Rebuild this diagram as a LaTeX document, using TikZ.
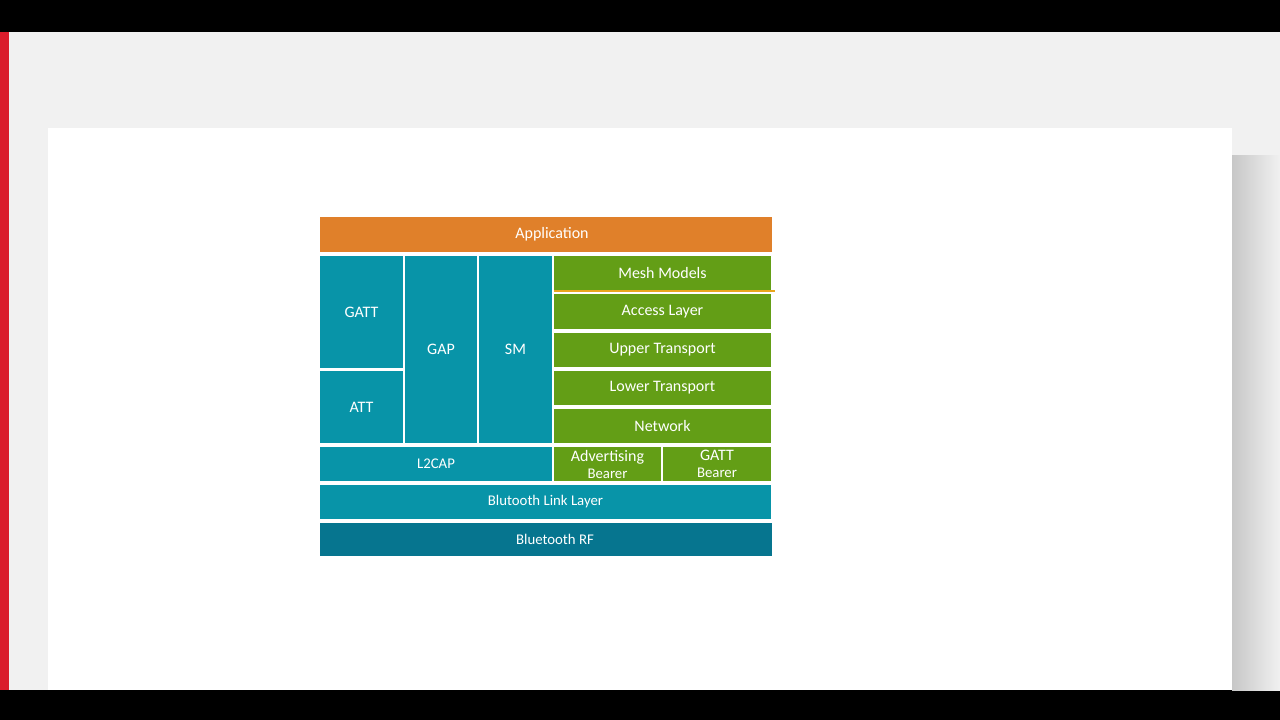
\documentclass[tikz,border=0pt]{standalone}
\usepackage{fontspec}
\setmainfont{Carlito}
\definecolor{apporange}{RGB}{224,128,42}
\definecolor{bleteal}{RGB}{8,148,168}
\definecolor{meshgreen}{RGB}{99,158,22}
\definecolor{rfteal}{RGB}{6,117,143}
\definecolor{pagegray}{RGB}{241,241,241}
\definecolor{barred}{RGB}{218,28,44}
\begin{document}
\begin{tikzpicture}[x=1pt,y=-1pt,
        layer/.style={anchor=north west,inner sep=0pt,outer sep=0pt,text=white,align=center,font=\fontsize{16}{18}\selectfont},
        host/.style={layer,fill=bleteal},
        mesh/.style={layer,fill=meshgreen},
        small/.style={font=\fontsize{14.8}{17}\selectfont}]
                % screen frame
                \fill[pagegray] (0,0) rectangle (1280,720);
                \fill[black] (0,0) rectangle (1280,32);
                \fill[black] (0,690) rectangle (1280,720);
                \fill[barred] (0,32) rectangle (9,690);
                \shade[left color=black!22,right color=pagegray] (1232,155) rectangle (1280,690);
                \fill[white] (48,128) rectangle (1232,690);

                \node[layer,fill=apporange,minimum width=452,minimum height=35] (app) at (320,217) {\hspace*{12pt}Application};

                \node[host,minimum width=83,minimum height=112] (gatt) at (320,256) {GATT};
                \node[host,minimum width=83,minimum height=72] (att) at (320,371) {ATT};
                \node[host,minimum width=72,minimum height=187] (gap) at (405,256) {GAP};
                \node[host,minimum width=73,minimum height=187] (sm) at (479,256) {SM};

                \node[mesh,minimum width=217,minimum height=35] (models) at (554,256) {Mesh Models};
                \node[mesh,minimum width=217,minimum height=35] (access) at (554,294) {Access Layer};
                \node[mesh,minimum width=217,minimum height=34] (upper) at (554,333) {Upper Transport};
                \node[mesh,minimum width=217,minimum height=34] (lower) at (554,371) {Lower Transport};
                \node[mesh,minimum width=217,minimum height=34] (network) at (554,409) {Network};
                \draw[apporange!70!yellow,line width=1.2pt] (models.south west) -- ++(221,0);

                \node[host,small,minimum width=232,minimum height=34] (l2cap) at (320,447) {L2CAP};
                \node[mesh,minimum width=107,minimum height=34] (advbearer) at (554,447) {Advertising\\[-1pt]{\fontsize{14.8}{17}\selectfont Bearer}};
                \node[mesh,minimum width=108,minimum height=34] (gattbearer) at (663,447) {GATT\\[-1pt]{\fontsize{14.8}{17}\selectfont Bearer}};

                \node[host,small,minimum width=451,minimum height=34] (link) at (320,485) {Blutooth Link Layer};
                \node[layer,small,fill=rfteal,minimum width=452,minimum height=33] (rf) at (320,523) {\hspace*{18pt}Bluetooth RF};
            \end{tikzpicture}
\end{document}
